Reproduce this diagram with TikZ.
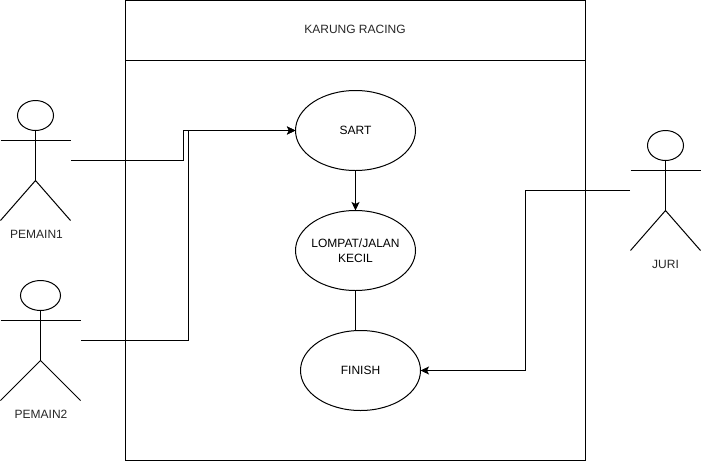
\documentclass[tikz,border=0pt]{standalone}
\usepackage{fontspec}
\setmainfont{Liberation Sans}
\usetikzlibrary{shapes.geometric,arrows.meta}
\tikzset{
  usecase/.style={draw=black,line width=1pt,ellipse,minimum width=120pt,minimum height=80pt,inner sep=0pt,outer sep=0pt,align=center,font=\fontsize{12}{15}\selectfont},
  label text/.style={inner sep=0pt,font=\fontsize{12}{15}\selectfont,text=black!85},
  head/.style={draw=black,line width=1pt,ellipse,minimum height=30pt,inner sep=0pt,outer sep=0pt},
  limb/.style={draw=black,line width=1pt},
  conn/.style={draw=black,line width=1pt},
  arrowconn/.style={conn,-{Stealth[length=8.5pt,width=8pt,inset=2pt]}}
}
\begin{document}
\begin{tikzpicture}[x=1pt,y=-1pt]
\useasboundingbox (0,0) rectangle (701,461);
% system box
\draw[conn] (125.5,0.5) rectangle (585.5,460.5);
\draw[conn] (125.5,60.5) -- (585.5,60.5);
\node[label text] (title) at (355,29.5) {KARUNG RACING};
% use cases
\node[usecase] (sart) at (355.5,130.5) {SART};
\node[usecase] (lompat) at (355.5,250.5) {\makebox[0pt]{LOMPAT/JALAN}\\\makebox[0pt]{KECIL}};
\node[usecase] (finish) at (360.5,370.5) {FINISH};
% actor 1
\node[head,minimum width=36pt] (h1) at (35.5,115.5) {};
\coordinate (hip1) at (35.5,180.5);
\coordinate (a1l) at (0.5,140.5);
\coordinate (a1r) at (70.5,140.5);
\coordinate (p1out) at (71,160.5);
\draw[limb] (h1.south) -- (hip1);
\draw[limb] (a1l) -- (a1r);
\draw[limb] (0.5,220.5) -- (hip1) -- (70.5,220.5);
\node[label text] (l1) at (36.5,234) {PEMAIN1};
% actor 2
\node[head,minimum width=40pt] (h2) at (40.5,295.5) {};
\coordinate (hip2) at (40.5,360.5);
\coordinate (a2l) at (0.5,320.5);
\coordinate (a2r) at (80.5,320.5);
\coordinate (p2out) at (81,340.5);
\draw[limb] (h2.south) -- (hip2);
\draw[limb] (a2l) -- (a2r);
\draw[limb] (0.5,400.5) -- (hip2) -- (80.5,400.5);
\node[label text] (l2) at (41,414) {PEMAIN2};
% actor 3
\node[head,minimum width=36pt] (h3) at (665.5,145.5) {};
\coordinate (hip3) at (665.5,210.5);
\coordinate (a3l) at (630.5,170.5);
\coordinate (a3r) at (700.5,170.5);
\coordinate (p3out) at (630,190.5);
\draw[limb] (h3.south) -- (hip3);
\draw[limb] (a3l) -- (a3r);
\draw[limb] (630.5,250.5) -- (hip3) -- (700.5,250.5);
\node[label text] (l3) at (665.5,264) {JURI};
% connectors
\draw[arrowconn] (p1out) -- (183,160.5) -- (183,130.5) -- (sart.west);
\draw[arrowconn] (p2out) -- (188,340.5) -- (188,130.5) -- (sart.west);
\draw[arrowconn] (sart.south) -- (lompat.north);
\draw[conn] (lompat.south) -- (355.5,330.5);
\draw[arrowconn] (p3out) -- (525.5,190.5) -- (525.5,370.5) -- (finish.east);
\end{tikzpicture}
\end{document}
